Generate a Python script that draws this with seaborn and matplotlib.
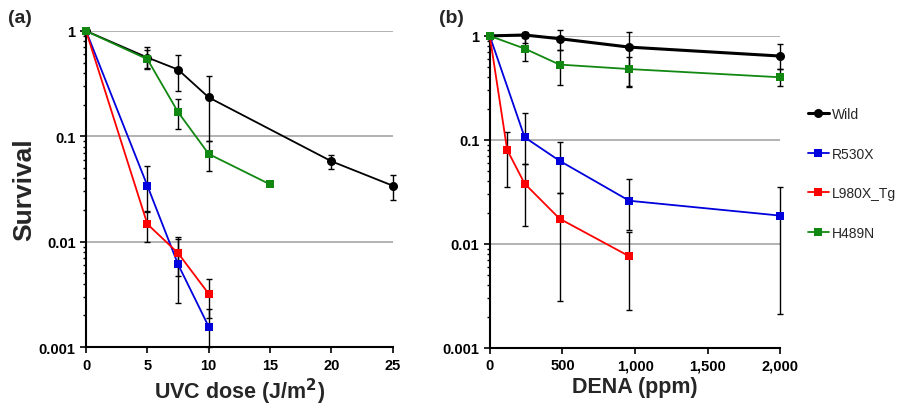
import numpy as np
import pandas as pd
import matplotlib
matplotlib.use('Agg')
import matplotlib.pyplot as plt
import seaborn as sns
from matplotlib.ticker import LogLocator, NullFormatter, FixedLocator, FuncFormatter

# Panel (a): UVC dose vs survival
uvc_wild_x = [0, 5, 7.5, 10, 20, 25]
uvc_wild_y = [1.0, 0.56, 0.43, 0.234, 0.058, 0.034]
uvc_wild_hi = [1.0, 0.70, 0.59, 0.37, 0.066, 0.043]
uvc_wild_lo = [1.0, 0.44, 0.27, 0.09, 0.049, 0.025]

uvc_r530_x = [0, 5, 7.5, 10]
uvc_r530_y = [1.0, 0.034, 0.0061, 0.00156]
uvc_r530_hi = [1.0, 0.052, 0.0105, 0.0023]
uvc_r530_lo = [1.0, 0.019, 0.0026, 0.001]

uvc_l980_x = [0, 5, 7.5, 10]
uvc_l980_y = [1.0, 0.0147, 0.0078, 0.0032]
uvc_l980_hi = [1.0, 0.0195, 0.011, 0.0044]
uvc_l980_lo = [1.0, 0.010, 0.0047, 0.0019]

uvc_h489_x = [0, 5, 7.5, 10, 15]
uvc_h489_y = [1.0, 0.54, 0.17, 0.068, 0.035]
uvc_h489_hi = [1.0, 0.66, 0.225, 0.09, 0.035]
uvc_h489_lo = [1.0, 0.45, 0.117, 0.047, 0.035]

# Panel (b): DENA vs survival
dena_wild_x = [0, 240, 480, 960, 2000]
dena_wild_y = [1.0, 1.02, 0.94, 0.78, 0.64]
dena_wild_hi = [1.0, 1.1, 1.15, 1.1, 0.83]
dena_wild_lo = [1.0, 0.85, 0.74, 0.33, 0.48]

dena_r530_x = [0, 240, 480, 960, 2000]
dena_r530_y = [1.0, 0.106, 0.063, 0.026, 0.0187]
dena_r530_hi = [1.0, 0.18, 0.096, 0.042, 0.035]
dena_r530_lo = [1.0, 0.059, 0.031, 0.0135, 0.0021]

dena_l980_x = [0, 120, 240, 480, 960]
dena_l980_y = [1.0, 0.08, 0.038, 0.0175, 0.0076]
dena_l980_hi = [1.0, 0.12, 0.059, 0.031, 0.013]
dena_l980_lo = [1.0, 0.035, 0.015, 0.0028, 0.0023]

dena_h489_x = [0, 240, 480, 960, 2000]
dena_h489_y = [1.0, 0.755, 0.53, 0.48, 0.40]
dena_h489_hi = [1.0, 0.95, 0.73, 0.63, 0.48]
dena_h489_lo = [1.0, 0.57, 0.34, 0.32, 0.33]

labels = ['Wild', 'R530X', 'L980X_Tg', 'H489N']
colors = {'Wild': 'black', 'R530X': '#0000dd', 'L980X_Tg': '#ff0000', 'H489N': '#118811'}
markers = {'Wild': 'o', 'R530X': 's', 'L980X_Tg': 's', 'H489N': 's'}

sns.set_theme(style='white')
plt.rcParams['font.family'] = ['Liberation Sans', 'DejaVu Sans']

fig = plt.figure(figsize=(8.97, 4.10), dpi=100)
ax_a = fig.add_axes([0.0959, 0.151, 0.342, 0.771])
ax_b = fig.add_axes([0.546, 0.149, 0.324, 0.761])

panel_a = {
    'Wild': (uvc_wild_x, uvc_wild_y, uvc_wild_hi, uvc_wild_lo),
    'R530X': (uvc_r530_x, uvc_r530_y, uvc_r530_hi, uvc_r530_lo),
    'L980X_Tg': (uvc_l980_x, uvc_l980_y, uvc_l980_hi, uvc_l980_lo),
    'H489N': (uvc_h489_x, uvc_h489_y, uvc_h489_hi, uvc_h489_lo),
}
panel_b = {
    'Wild': (dena_wild_x, dena_wild_y, dena_wild_hi, dena_wild_lo),
    'R530X': (dena_r530_x, dena_r530_y, dena_r530_hi, dena_r530_lo),
    'L980X_Tg': (dena_l980_x, dena_l980_y, dena_l980_hi, dena_l980_lo),
    'H489N': (dena_h489_x, dena_h489_y, dena_h489_hi, dena_h489_lo),
}


def draw_panel(ax, data, wild_lw):
    # error bars first, then lines with markers on top
    for name in labels:
        x, y, hi, lo = data[name]
        y = np.array(y)
        yerr = [y - np.array(lo), np.array(hi) - y]
        eb = ax.errorbar(x, y, yerr=yerr, fmt='none', ecolor='black', elinewidth=1.0,
                         capsize=2, capthick=1.0, zorder=2)
        for art in eb.lines[1] + eb.lines[2]:
            art.set_clip_on(False)
    for name in labels:
        x, y, hi, lo = data[name]
        df = pd.DataFrame({'x': x, 'y': y})
        sns.lineplot(data=df, x='x', y='y', ax=ax, color=colors[name],
                     marker=markers[name], markersize=6.5 if name == 'Wild' else 6,
                     markeredgewidth=0, linewidth=wild_lw if name == 'Wild' else 1.3,
                     label=name, zorder=3, legend=False, clip_on=False)
    ax.set_yscale('log')
    ax.set_ylim(0.001, 1)
    ax.yaxis.set_major_locator(FixedLocator([0.001, 0.01, 0.1, 1]))
    ax.yaxis.set_major_formatter(FuncFormatter(lambda v, p: {0.001: '0.001', 0.01: '0.01', 0.1: '0.1', 1: '1'}.get(round(v, 3), '')))
    ax.yaxis.set_minor_locator(LogLocator(base=10, subs=np.arange(2, 10)))
    ax.yaxis.set_minor_formatter(NullFormatter())
    ax.grid(axis='y', which='major', color='#a6a6a6', linewidth=1.2, zorder=0)
    ax.grid(axis='x', visible=False)
    ax.set_axisbelow(True)
    for s in ['top', 'right']:
        ax.spines[s].set_visible(False)
    for s in ['left', 'bottom']:
        ax.spines[s].set_color('black')
        ax.spines[s].set_linewidth(1.5)
    ax.tick_params(axis='both', which='major', direction='out', length=4, width=1.2,
                   colors='black', labelsize=10.5, left=True, bottom=True)
    ax.tick_params(axis='y', which='minor', direction='out', length=2.5, width=1.0,
                   colors='black', left=True)
    for t in ax.get_xticklabels() + ax.get_yticklabels():
        t.set_fontweight('bold')
    ax.set_ylabel('')


draw_panel(ax_a, panel_a, 1.3)
ax_a.set_xlim(0, 25)
ax_a.set_xticks([0, 5, 10, 15, 20, 25])
ax_a.set_xticklabels(['0', '5', '10', '15', '20', '25'], fontweight='bold')
ax_a.set_xlabel('UVC dose (J/m$^\\mathbf{2}$)', fontsize=15.5, fontweight='bold', labelpad=3)
ax_a.set_ylabel('Survival', fontsize=19, fontweight='bold', labelpad=2)

draw_panel(ax_b, panel_b, 2.2)
ax_b.set_xlim(0, 2000)
ax_b.set_xticks([0, 500, 1000, 1500, 2000])
ax_b.set_xticklabels(['0', '500', '1,000', '1,500', '2,000'], fontweight='bold')
ax_b.set_xlabel('DENA (ppm)', fontsize=15.5, fontweight='bold', labelpad=3)

fig.text(0.009, 0.955, '(a)', fontsize=14, fontweight='bold', va='center')
fig.text(0.489, 0.955, '(b)', fontsize=14, fontweight='bold', va='center')

handles, lbls = ax_b.get_legend_handles_labels()
fig.legend(handles, lbls, loc='upper left', bbox_to_anchor=(0.9008, 0.737), frameon=False,
           fontsize=10, handlelength=1.5, handletextpad=0.2, labelspacing=1.85,
           borderaxespad=0, borderpad=0)

plt.savefig('out.png', dpi=100)
